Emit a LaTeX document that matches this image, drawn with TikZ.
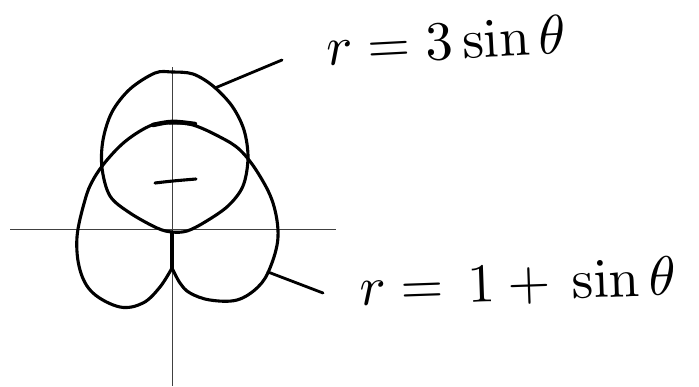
\documentclass[tikz,border=0pt]{standalone}
\begin{document}
\begin{tikzpicture}[
    x=1pt, y=-1pt,
    axis/.style={draw=black!75, line width=1pt},
    curve/.style={draw=black, line width=3.1pt, line cap=round, line join=round},
    leader/.style={draw=black, line width=2.8pt, line cap=round},
    eqn/.style={anchor=base west, inner sep=0pt}
]
\useasboundingbox (0,0) rectangle (699,386);

% axes
\coordinate (xl) at (10,229);
\coordinate (xr) at (336,229);
\coordinate (yt) at (172,67);
\coordinate (yb) at (172,386);
\draw[axis] (xl) -- (xr);
\draw[axis] (yt) -- (yb);

% circle r = 3 sin theta
\draw[curve] plot[smooth cycle, tension=0.55] coordinates {
    (155,73) (172,72) (193,74) (213,86) (232,106) (244,130) (248,158)
    (243,186) (228,206) (205,222) (187,231) (172,232) (157,228) (130,213)
    (110,196) (102,168) (103,140) (112,112) (130,89)};

% r = 1 + sin theta, as sketched
\coordinate (org) at (172,232);
\coordinate (cusp) at (172,268);
\draw[curve] plot[smooth, tension=0.6] coordinates {
    (172,268) (180,283) (190,293) (210,300) (237,300) (258,287) (270,268)
    (278,237) (273,203) (258,173) (240,150) (220,137) (193,125) (172,123)
    (152,125) (127,140) (107,160) (93,180) (85,200) (77,237) (80,270)
    (93,293) (120,307) (143,303) (160,287) (172,268)};
\draw[curve] (org) -- (cusp);
\draw[curve, line width=4.5pt] (153,125) .. controls (172,121) .. (195,124);

% small mark
\draw[curve] (155,183) .. controls (172,181) .. (196,179);

% labels
\node[eqn, rotate=3] (lblcirc) at (327,66) {\scalebox{5.5}{$r=3\sin\theta$}};
\node[eqn, rotate=2] (lblcard) at (360,306) {\scalebox{5.5}{$r=\,1+\,\sin\theta$}};

\coordinate (oncirc) at (215,88);
\coordinate (endcirc) at (282,60);
\draw[leader] (oncirc) -- (endcirc);
\coordinate (oncard) at (268,272);
\coordinate (endcard) at (323,293);
\draw[leader] (oncard) -- (endcard);
\end{tikzpicture}
\end{document}
